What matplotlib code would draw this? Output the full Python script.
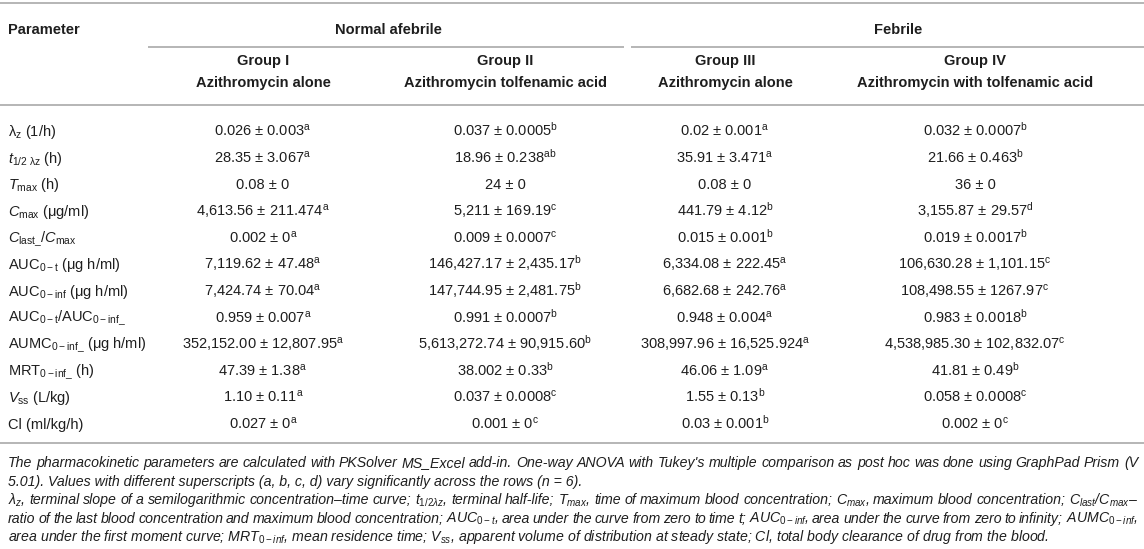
import matplotlib
matplotlib.use("Agg")
import matplotlib.pyplot as plt

plt.rcParams['font.family'] = ['Liberation Sans', 'DejaVu Sans']
plt.rcParams['mathtext.fontset'] = 'custom'
plt.rcParams['mathtext.rm'] = 'Liberation Sans'
plt.rcParams['mathtext.it'] = 'Liberation Sans:italic'
plt.rcParams['mathtext.bf'] = 'Liberation Sans:bold'
plt.rcParams['mathtext.sf'] = 'Liberation Sans'

# ---- table data ----
conditions = ["Normal afebrile", "Febrile"]
groups = ["Group I", "Group II", "Group III", "Group IV"]
treatments = ["Azithromycin alone", "Azithromycin tolfenamic acid",
              "Azithromycin alone", "Azithromycin with tolfenamic acid"]

parameters = [
    r"$\mathrm{\lambda_{z}}$ (1/h)",
    r"$t_{\mathrm{1/2\ \lambda z}}$ (h)",
    r"$T_{\mathrm{max}}$ (h)",
    r"$C_{\mathrm{max}}$ (μg/ml)",
    r"$C_{\mathrm{last\_}}$/$C_{\mathrm{max}}$",
    r"AUC$_{\mathrm{0-t}}$ (μg h/ml)",
    r"AUC$_{\mathrm{0-inf}}$ (μg h/ml)",
    r"AUC$_{\mathrm{0-t}}$/AUC$_{\mathrm{0-inf\_}}$",
    r"AUMC$_{\mathrm{0-inf\_}}$ (μg h/ml)",
    r"MRT$_{\mathrm{0-inf\_}}$ (h)",
    r"$V_{\mathrm{ss}}$ (L/kg)",
    "Cl (ml/kg/h)",
]

group1 = ["0.026 ± 0.003", "28.35 ± 3.067", "0.08 ± 0", "4,613.56 ± 211.474",
          "0.002 ± 0", "7,119.62 ± 47.48", "7,424.74 ± 70.04", "0.959 ± 0.007",
          "352,152.00 ± 12,807.95", "47.39 ± 1.38", "1.10 ± 0.11", "0.027 ± 0"]
group1_sup = ["a", "a", "", "a", "a", "a", "a", "a", "a", "a", "a", "a"]

group2 = ["0.037 ± 0.0005", "18.96 ± 0.238", "24 ± 0", "5,211 ± 169.19",
          "0.009 ± 0.0007", "146,427.17 ± 2,435.17", "147,744.95 ± 2,481.75",
          "0.991 ± 0.0007", "5,613,272.74 ± 90,915.60", "38.002 ± 0.33",
          "0.037 ± 0.0008", "0.001 ± 0"]
group2_sup = ["b", "ab", "", "c", "c", "b", "b", "b", "b", "b", "c", "c"]

group3 = ["0.02 ± 0.001", "35.91 ± 3.471", "0.08 ± 0", "441.79 ± 4.12",
          "0.015 ± 0.001", "6,334.08 ± 222.45", "6,682.68 ± 242.76",
          "0.948 ± 0.004", "308,997.96 ± 16,525.924", "46.06 ± 1.09",
          "1.55 ± 0.13", "0.03 ± 0.001"]
group3_sup = ["a", "a", "", "b", "b", "a", "a", "a", "a", "a", "b", "b"]

group4 = ["0.032 ± 0.0007", "21.66 ± 0.463", "36 ± 0", "3,155.87 ± 29.57",
          "0.019 ± 0.0017", "106,630.28 ± 1,101.15", "108,498.55 ± 1267.97",
          "0.983 ± 0.0018", "4,538,985.30 ± 102,832.07", "41.81 ± 0.49",
          "0.058 ± 0.0008", "0.002 ± 0"]
group4_sup = ["b", "b", "", "d", "b", "c", "c", "b", "c", "b", "c", "c"]

footnote_lines = [
    ("The pharmacokinetic parameters are calculated with PKSolver MS_Excel add-in. "
     "One-way ANOVA with Tukey's multiple comparison as post hoc was done using GraphPad Prism (V", True),
    ("5.01). Values with different superscripts (a, b, c, d) vary significantly across the rows (n = 6).", False),
    (r"$\lambda_{z}$, terminal slope of a semilogarithmic concentration–time curve; $t_{1/2{\lambda}z}$, "
     r"terminal half-life; $T_{max}$, time of maximum blood concentration; $C_{max}$, "
     r"maximum blood concentration; $C_{last}$/$C_{max}$–", True),
    (r"ratio of the last blood concentration and maximum blood concentration; $AUC_{0-t}$, "
     r"area under the curve from zero to time t; $AUC_{0-inf}$, area under the curve from zero to infinity; "
     r"$AUMC_{0-inf}$,", True),
    (r"area under the first moment curve; $MRT_{0-inf}$, mean residence time; $V_{ss}$, "
     r"apparent volume of distribution at steady state; Cl, total body clearance of drug from the blood.", False),
]

# ---- layout ----
W, H = 1144, 549
fig = plt.figure(figsize=(W / 100, H / 100), dpi=100)
ax = fig.add_axes([0, 0, 1, 1])
ax.set_xlim(0, W)
ax.set_ylim(H, 0)
ax.axis("off")

txt = "#1e1e1e"
rule = "#b0b0b0"
fs = 10.5
fs_note = 10.2

col_x = [263, 505, 725, 975]
cond_x = [388, 898]

def hline(y, x0, x1):
    ax.plot([x0, x1], [y, y], color=rule, lw=1.3, solid_capstyle="butt")

hline(3, 0, W)
hline(47, 148, 624)
hline(47, 631, W)
hline(105, 0, W)
hline(443, 0, W)

ax.text(8, 30, "Parameter", fontsize=fs, fontweight="bold", color=txt, va="center")
for cx, c in zip(cond_x, conditions):
    ax.text(cx, 30, c, fontsize=fs, fontweight="bold", color=txt, ha="center", va="center")
for cx, g, t in zip(col_x, groups, treatments):
    ax.text(cx, 61, g, fontsize=fs, fontweight="bold", color=txt, ha="center", va="center")
    ax.text(cx, 83, t, fontsize=fs, fontweight="bold", color=txt, ha="center", va="center")

row_y0, row_dy = 131, 26.6
cols = [(group1, group1_sup), (group2, group2_sup), (group3, group3_sup), (group4, group4_sup)]
for i, p in enumerate(parameters):
    y = row_y0 + i * row_dy + 5
    ax.text(8, y, p, fontsize=fs, color=txt, va="baseline")
    for cx, (vals, sups) in zip(col_x, cols):
        s = vals[i]
        if sups[i]:
            s += r"$^{\mathrm{%s}}$" % sups[i]
        ax.text(cx, y, s, fontsize=fs, color=txt, ha="center", va="baseline")

# footnote, justified lines
renderer = fig.canvas.get_renderer()
note_y0, note_dy = 462, 18.6
x_left, x_right = 8, 1138
for k, (line, justify) in enumerate(footnote_lines):
    y = note_y0 + k * note_dy + 5
    if not justify:
        ax.text(x_left, y, line, fontsize=fs_note, style="italic", color=txt, va="baseline")
        continue
    words = line.split(" ")
    items = [ax.text(0, y, w, fontsize=fs_note, style="italic", color=txt, va="baseline")
             for w in words]
    widths = [t.get_window_extent(renderer).width for t in items]
    gap = (x_right - x_left - sum(widths)) / (len(words) - 1)
    x = x_left
    for t, w in zip(items, widths):
        t.set_x(x)
        x += w + gap

fig.savefig("out.png", dpi=100)
